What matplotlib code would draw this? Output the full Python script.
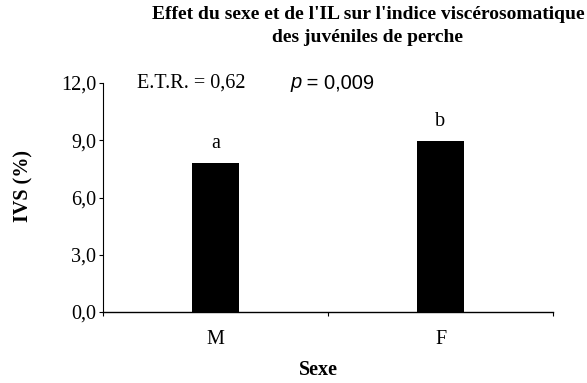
import numpy as np
import matplotlib.pyplot as plt

# Indice viscérosomatique moyen par sexe
sexes = ["M", "F"]
ivs = [7.8, 8.95]
lettres = ["a", "b"]
etr = "0,62"
p_val = "0,009"
y_ticks = [0.0, 3.0, 6.0, 9.0, 12.0]

plt.rcParams['font.family'] = ['Liberation Serif', 'DejaVu Serif']
FS = 14.5

fig = plt.figure(figsize=(5.87, 3.83), dpi=100)
ax = fig.add_axes([103 / 587, 1 - 312 / 383, 450 / 587, 229 / 383])

x = np.arange(len(sexes))
ax.bar(x, ivs, width=0.205, color='black')

for xi, val, lettre in zip(x, ivs, lettres):
    ax.text(xi, val + 0.55, lettre, ha='center', va='bottom', fontsize=FS)

ax.set_xlim(-0.5, len(sexes) - 0.5)
ax.set_ylim(0, 12)

# graduations entre les catégories, étiquettes au centre des barres
ax.set_xticks(np.arange(-0.5, len(sexes)), labels=[])
ax.set_xticks(x, labels=sexes, minor=True)
ax.tick_params(axis='x', which='major', direction='out', length=3, width=0.8)
ax.tick_params(axis='x', which='minor', length=0, labelsize=FS, pad=13)

ax.set_yticks(y_ticks, labels=[f"{v:.1f}".replace('.', ',') for v in y_ticks])
ax.tick_params(axis='y', direction='out', length=3, width=0.8, labelsize=FS, pad=2)

for side in ['top', 'right']:
    ax.spines[side].set_visible(False)
ax.spines['left'].set_linewidth(0.8)
ax.spines['bottom'].set_linewidth(1.0)

fig.text(23 / 587, 1 - 186 / 383, "IVS (%)", rotation=90, ha='center', va='center',
         fontsize=FS, fontweight='bold')
fig.text(318 / 587, 1 - 370 / 383, "Sexe", ha='center', va='center',
         fontsize=FS, fontweight='bold')

fig.text(368 / 587, 1 - 26 / 383,
         "Effet du sexe et de l'IL sur l'indice viscérosomatique\ndes juvéniles de perche",
         ha='center', va='center', fontsize=14, fontweight='bold', linespacing=1.5)

fig.text(137 / 587, 1 - 83 / 383, f"E.T.R. = {etr}", ha='left', va='center', fontsize=FS)
fig.text(290 / 587, 1 - 83 / 383, "p", ha='left', va='center', fontsize=FS,
         family='Liberation Sans', style='italic')
fig.text(301 / 587, 1 - 83 / 383, f" = {p_val}", ha='left', va='center', fontsize=FS,
         family='Liberation Sans')

fig.savefig("out.png", dpi=100)
